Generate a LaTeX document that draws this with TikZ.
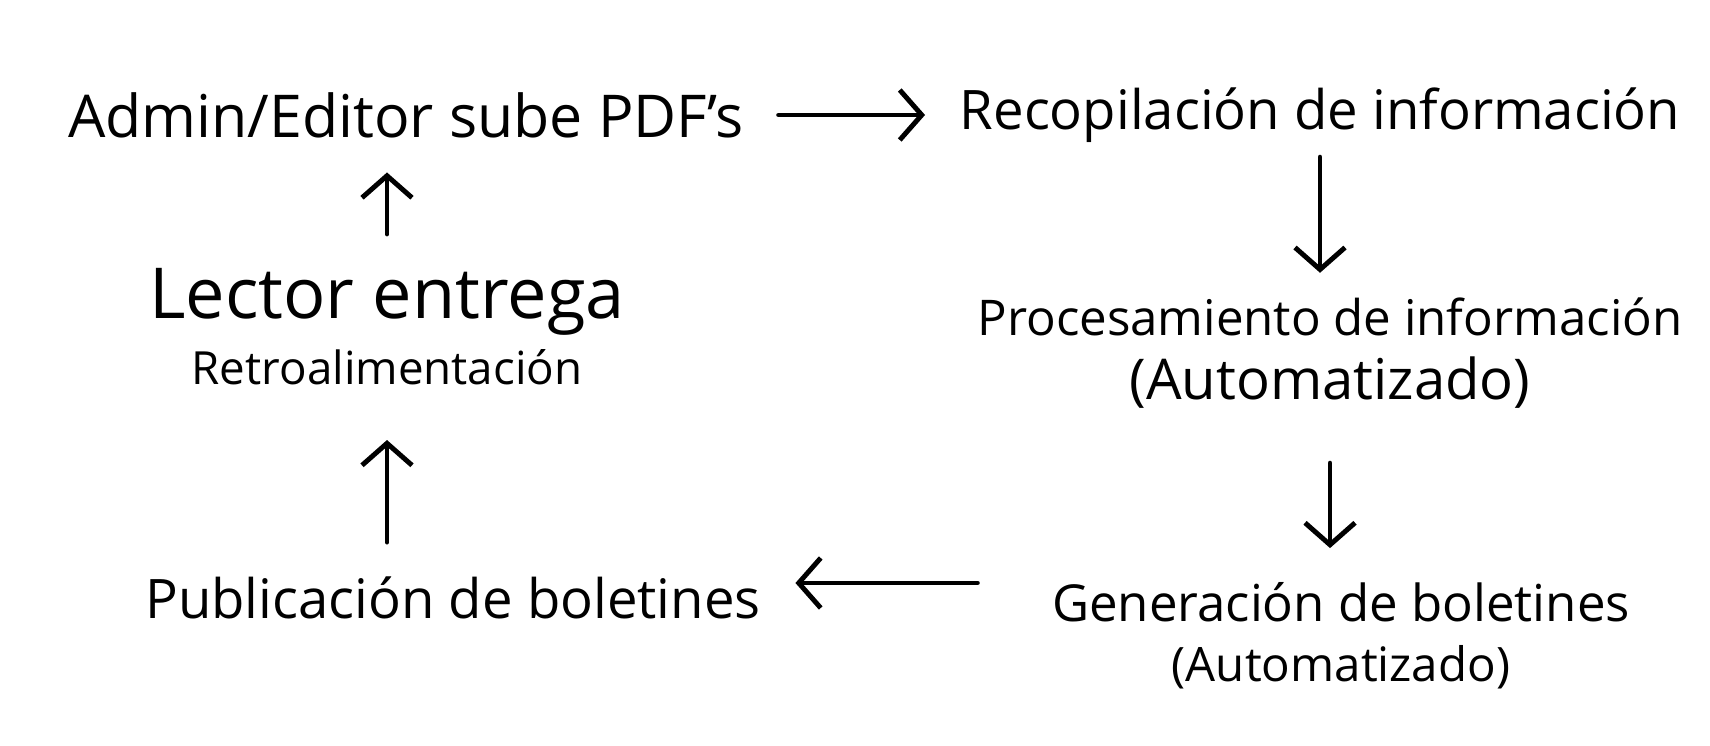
\documentclass[tikz,border=0pt]{standalone}
\usepackage{fontspec}
\setmainfont{Open Sans}
\usetikzlibrary{arrows.meta}
\begin{document}
\begin{tikzpicture}[
    every node/.style={inner sep=4pt, align=center},
    flecha/.style={line width=1.4pt, line cap=round, shorten >=2mm, shorten <=2mm,
      -{Straight Barb[length=2.2mm,width=5mm,line width=1.4pt]}},
    big/.style={font=\fontsize{15.5}{19}\selectfont}
  ]
  \useasboundingbox (0,0) rectangle (17.1,7.46);
  % Top row
  \node[font=\fontsize{16.8}{19}\selectfont] (admin) at (4.06,6.31) {Admin/Editor sube PDF's};
  \node[big] (recop) at (13.20,6.31) {Recopilación de información};
  % Right column
  \node (proc) at (13.30,3.93)
    {\fontsize{14}{17}\selectfont Procesamiento de información\\[5pt]
     \fontsize{16}{19}\selectfont (Automatizado)};
  \node (gen) at (13.41,1.10)
    {\fontsize{14.5}{17}\selectfont Generación de boletines\\[5pt]
     \fontsize{13.5}{16}\selectfont (Automatizado)};
  % Left column
  \node[big] (pub) at (4.53,1.48) {Publicación de boletines};
  \node (lector) at (3.87,4.19)
    {\fontsize{20}{24}\selectfont Lector entrega\\[3pt]
     \fontsize{13}{16}\selectfont Retroalimentación};
  % Connectors
  \draw[flecha] (admin) -- (recop);
  \draw[flecha, shorten <=0mm, shorten >=1mm] (recop.south) -- (recop.south |- proc.north);
  \draw[flecha, shorten <=4mm] (proc.south) -- (proc.south |- gen.north);
  \draw[flecha, shorten <=6mm] ([yshift=1.5mm]pub.east -| gen.west) -- ([yshift=1.5mm]pub.east);
  \draw[flecha, shorten >=4mm] (lector.south |- pub.north) -- (lector.south);
  \draw[flecha] (lector.north) -- (lector.north |- admin.south);
\end{tikzpicture}
\end{document}
